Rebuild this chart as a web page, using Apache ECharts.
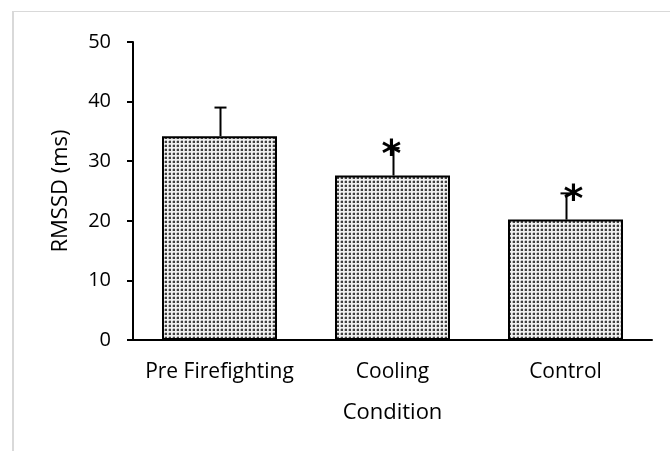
<!DOCTYPE html>
<html>
<head>
<meta charset="utf-8">
<script src="https://cdn.jsdelivr.net/npm/echarts@6/dist/echarts.min.js"></script>
<style>
html,body{margin:0;padding:0;background:#fff;}
#frame{position:absolute;left:12px;top:11px;right:0;bottom:0;border-left:2px solid #d9d9d9;border-top:1px solid #d9d9d9;}
#chart{position:absolute;left:0;top:0;width:670px;height:451px;}
</style>
</head>
<body>
<div id="frame"></div>
<div id="chart"></div>
<script>
// ---- data ----
var categories = ['Pre Firefighting', 'Cooling', 'Control'];
var meanValues = [34.2, 27.6, 20.2];
var errorValues = [4.8, 4.6, 4.4];
var significant = [false, true, true];
var yTicks = [0, 10, 20, 30, 40, 50];

// ---- styles ----
var FONT = '"Open Sans"';
var starShiftX = [0, -1, 8];

function makePattern() {
  var c = document.createElement('canvas');
  c.width = 4; c.height = 4;
  var g = c.getContext('2d');
  g.fillStyle = '#f0f0f0';
  g.fillRect(0, 0, 4, 4);
  g.fillStyle = '#bcbcbc';
  g.fillRect(1, 0, 2, 1);
  g.fillRect(0, 1, 1, 2);
  g.fillStyle = '#404040';
  g.fillRect(1, 1, 2, 2);
  return c;
}

var chart = echarts.init(document.getElementById('chart'), null, {renderer: 'canvas'});

var errData = categories.map(function (c, i) { return [i, meanValues[i], meanValues[i] + errorValues[i]]; });
var starData = [];
categories.forEach(function (c, i) { if (significant[i]) starData.push([i, meanValues[i] + errorValues[i]]); });

chart.setOption({
  animation: false,
  grid: {left: 133, right: 18, top: 42, bottom: 111},
  xAxis: {
    type: 'category',
    data: categories,
    name: 'Condition',
    nameLocation: 'middle',
    nameGap: 62,
    nameTextStyle: {fontFamily: FONT, fontSize: 22, color: '#000'},
    axisLine: {lineStyle: {color: '#000', width: 2}},
    axisTick: {show: false},
    axisLabel: {fontFamily: FONT, fontSize: 21, color: '#000', margin: 22, interval: 0},
    splitLine: {show: false}
  },
  yAxis: {
    type: 'value',
    min: yTicks[0],
    max: yTicks[yTicks.length - 1],
    interval: 10,
    name: 'RMSSD (ms)',
    nameLocation: 'middle',
    nameGap: 61,
    nameTextStyle: {fontFamily: FONT, fontSize: 22, color: '#000'},
    axisLine: {show: true, lineStyle: {color: '#000', width: 2}},
    axisTick: {show: true, length: 6, lineStyle: {color: '#000', width: 2}},
    axisLabel: {fontFamily: FONT, fontSize: 20, color: '#000', margin: 22},
    splitLine: {show: false}
  },
  series: [
    {
      type: 'bar',
      data: meanValues,
      barWidth: 115,
      itemStyle: {
        color: {image: makePattern(), repeat: 'repeat'},
        borderColor: '#000',
        borderWidth: 2
      },
      z: 2
    },
    {
      type: 'custom',
      data: errData,
      z: 3,
      renderItem: function (params, api) {
        var base = api.coord([api.value(0), api.value(1)]);
        var top = api.coord([api.value(0), api.value(2)]);
        var x = Math.round(base[0]) + 0.5;
        return {
          type: 'group',
          children: [
            {type: 'line', shape: {x1: x, y1: base[1], x2: x, y2: top[1]}, style: {stroke: '#000', lineWidth: 2}},
            {type: 'line', shape: {x1: x - 6, y1: top[1], x2: x + 6, y2: top[1]}, style: {stroke: '#000', lineWidth: 2}}
          ]
        };
      }
    },
    {
      type: 'custom',
      data: starData,
      z: 4,
      renderItem: function (params, api) {
        var idx = api.value(0);
        var p = api.coord([idx, api.value(1)]);
        return {
          type: 'text',
          x: p[0] + starShiftX[idx],
          y: p[1] + 8,
          style: {
            text: '*',
            fontFamily: 'DejaVu Sans',
            fontWeight: 'bold',
            fontSize: 38,
            fill: '#000',
            align: 'center',
            verticalAlign: 'middle'
          }
        };
      }
    }
  ]
});
</script>
</body>
</html>
